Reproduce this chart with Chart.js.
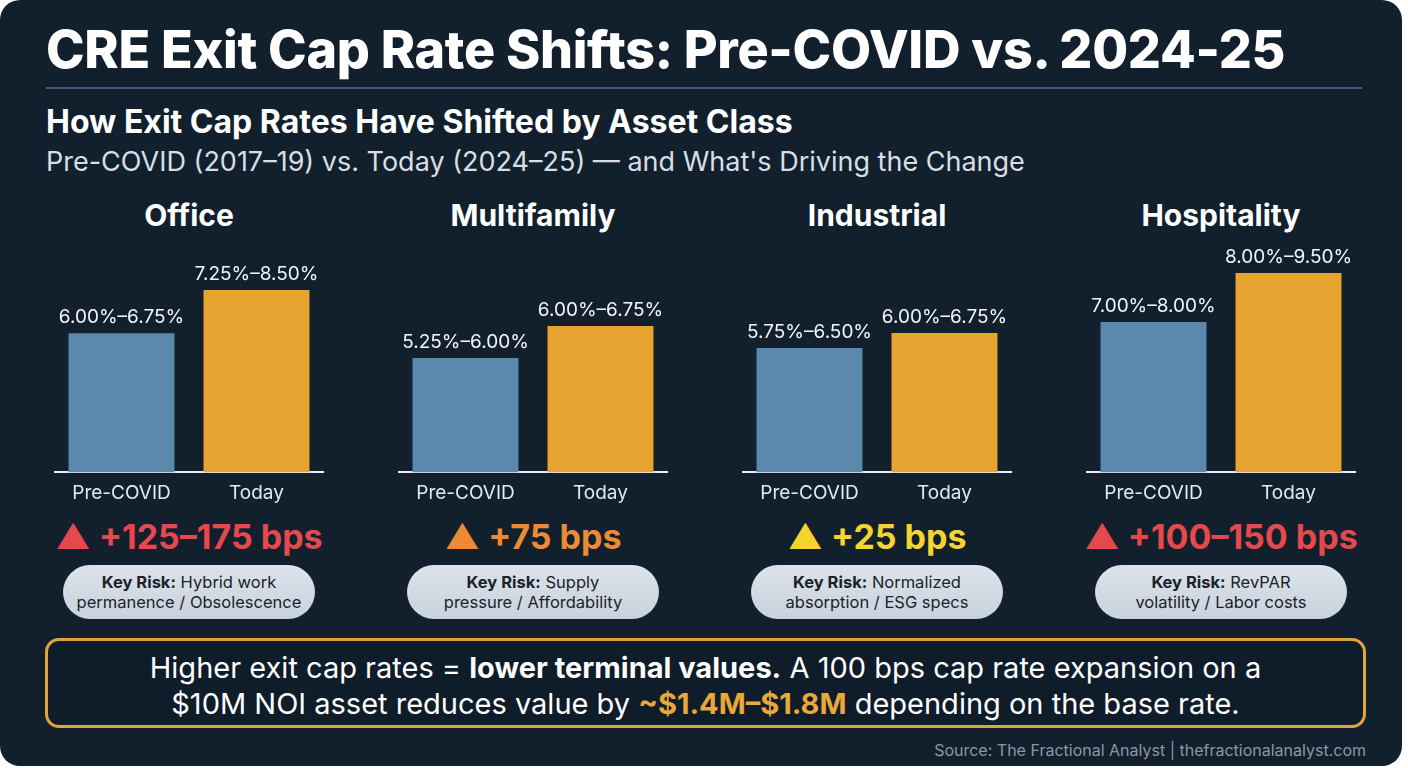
<!DOCTYPE html>
<html>
<head>
<meta charset="utf-8">
<script src="https://cdn.jsdelivr.net/npm/chart.js@4.4.1/dist/chart.umd.min.js"></script>
<style>
  html, body { margin:0; padding:0; background:#ffffff; }
  body { width:1408px; height:768px; overflow:hidden; font-family:Inter, "Noto Sans", sans-serif; }
  #card { position:absolute; left:0; top:0; width:1402px; height:766px; background:#12202e; border-radius:20px; overflow:hidden; }
  .abs { position:absolute; }
  #title { left:46px; top:18px; font-size:52px; font-weight:800; color:#ffffff; letter-spacing:-0.3px; white-space:nowrap; }
  #rule { left:46px; top:87px; width:1316px; height:2px; background:#3e5a76; }
  #sub1 { left:46px; top:102px; font-size:32px; font-weight:700; color:#ffffff; white-space:nowrap; }
  #sub2 { left:46px; top:145px; font-size:27px; font-weight:400; color:#d9dee4; white-space:nowrap; }
  .ptitle { width:300px; text-align:center; top:197px; font-size:30px; font-weight:700; color:#ffffff; }
  .chartbox { top:240px; width:270px; height:275px; }
  .bps { width:360px; text-align:center; top:516px; font-size:34px; font-weight:700; white-space:nowrap; }
  .pill { top:565px; width:252px; height:54px; border-radius:27px; background:linear-gradient(#dbe2ea,#c9d3de); color:#1c222a; font-size:16.5px; line-height:20px; text-align:center; display:flex; align-items:center; justify-content:center; }
  #note { left:45px; top:638px; width:1315px; height:84px; border:3px solid #e3a33b; border-radius:14px; background:#0f1c29; color:#ffffff; font-size:29px; line-height:36px; text-align:center; display:flex; align-items:center; justify-content:center; }
  #note > div { padding-top:5px; }
  #note b { font-weight:700; }
  #note .hl { color:#eba83a; font-weight:700; }
  #source { right:36px; top:740px; font-size:16px; color:#8c97a4; white-space:nowrap; }
</style>
</head>
<body>
<div id="card">
  <div id="title" class="abs">CRE Exit Cap Rate Shifts: Pre-COVID vs. 2024-25</div>
  <div id="rule" class="abs"></div>
  <div id="sub1" class="abs">How Exit Cap Rates Have Shifted by Asset Class</div>
  <div id="sub2" class="abs">Pre-COVID (2017–19) vs. Today (2024–25) — and What's Driving the Change</div>
  <div id="panels"></div>
  <div id="note" class="abs"><div>Higher exit cap rates = <b>lower terminal values.</b> A 100 bps cap rate expansion on a<br>$10M NOI asset reduces value by <span class="hl">~$1.4M–$1.8M</span> depending on the base rate.</div></div>
  <div id="source" class="abs">Source: The Fractional Analyst | thefractionalanalyst.com</div>
</div>
<script>
// data
const assetClasses = ['Office', 'Multifamily', 'Industrial', 'Hospitality'];
const periods = ['Pre-COVID', 'Today'];
const preCovidLow  = [6.00, 5.25, 5.75, 7.00];
const preCovidHigh = [6.75, 6.00, 6.50, 8.00];
const todayLow  = [7.25, 6.00, 6.00, 8.00];
const todayHigh = [8.50, 6.75, 6.75, 9.50];
const bpsChange = ['+125–175 bps', '+75 bps', '+25 bps', '+100–150 bps'];
const keyRiskLine1 = ['Hybrid work', 'Supply', 'Normalized', 'RevPAR'];
const keyRiskLine2 = ['permanence / Obsolescence', 'pressure / Affordability', 'absorption / ESG specs', 'volatility / Labor costs'];

// each small chart has its own y window (the original panels are not on a shared scale)
const yWindow = [[1.53, 9.62], [2.95, 8.39], [4.06, 7.92], [3.67, 9.59]];
const bpsColors = ['#e5484d', '#ee8a33', '#f3d52e', '#e5484d'];
const panelLeft = [54, 398, 742, 1086];
const barColors = ['#5b88ad', '#e8a431'];

const pct = v => v.toFixed(2) + '%';

const rangeLabels = {
  id: 'rangeLabels',
  afterDatasetsDraw(chart, args, opts) {
    const ctx = chart.ctx;
    const meta = chart.getDatasetMeta(0);
    ctx.save();
    ctx.font = '400 19px Inter';
    ctx.fillStyle = '#f2f4f7';
    ctx.textAlign = 'center';
    ctx.textBaseline = 'bottom';
    meta.data.forEach((bar, i) => {
      ctx.fillText(opts.labels[i], bar.x, bar.y - 6);
    });
    ctx.restore();
  }
};

const panels = document.getElementById('panels');

assetClasses.forEach((name, i) => {
  const left = panelLeft[i];
  const center = left + 135;

  const t = document.createElement('div');
  t.className = 'abs ptitle';
  t.style.left = (center - 150) + 'px';
  t.textContent = name;
  panels.appendChild(t);

  const box = document.createElement('div');
  box.className = 'abs chartbox';
  box.style.left = left + 'px';
  const cv = document.createElement('canvas');
  box.appendChild(cv);
  panels.appendChild(box);

  const b = document.createElement('div');
  b.className = 'abs bps';
  b.style.left = (center - 180) + 'px';
  b.style.color = bpsColors[i];
  b.textContent = '▲ ' + bpsChange[i];
  panels.appendChild(b);

  const p = document.createElement('div');
  p.className = 'abs pill';
  p.style.left = (center - 126) + 'px';
  p.innerHTML = '<div><b>Key Risk:</b> ' + keyRiskLine1[i] + '<br>' + keyRiskLine2[i] + '</div>';
  panels.appendChild(p);

  const mids = [(preCovidLow[i] + preCovidHigh[i]) / 2, (todayLow[i] + todayHigh[i]) / 2];
  const labels = [pct(preCovidLow[i]) + '–' + pct(preCovidHigh[i]), pct(todayLow[i]) + '–' + pct(todayHigh[i])];

  new Chart(cv, {
    type: 'bar',
    data: {
      labels: periods,
      datasets: [{
        data: mids,
        backgroundColor: barColors,
        borderWidth: 0,
        barPercentage: 0.785,
        categoryPercentage: 1
      }]
    },
    options: {
      responsive: true,
      maintainAspectRatio: false,
      animation: false,
      layout: { padding: 0 },
      plugins: {
        legend: { display: false },
        tooltip: { enabled: false },
        rangeLabels: { labels: labels }
      },
      scales: {
        x: {
          grid: { display: false, drawTicks: false },
          border: { display: true, color: '#e9edf1', width: 2 },
          ticks: { color: '#e4e8ed', font: { family: 'Inter', size: 19 }, padding: 10 }
        },
        y: { display: false, min: yWindow[i][0], max: yWindow[i][1] }
      }
    },
    plugins: [rangeLabels]
  });
});
</script>
</body>
</html>
